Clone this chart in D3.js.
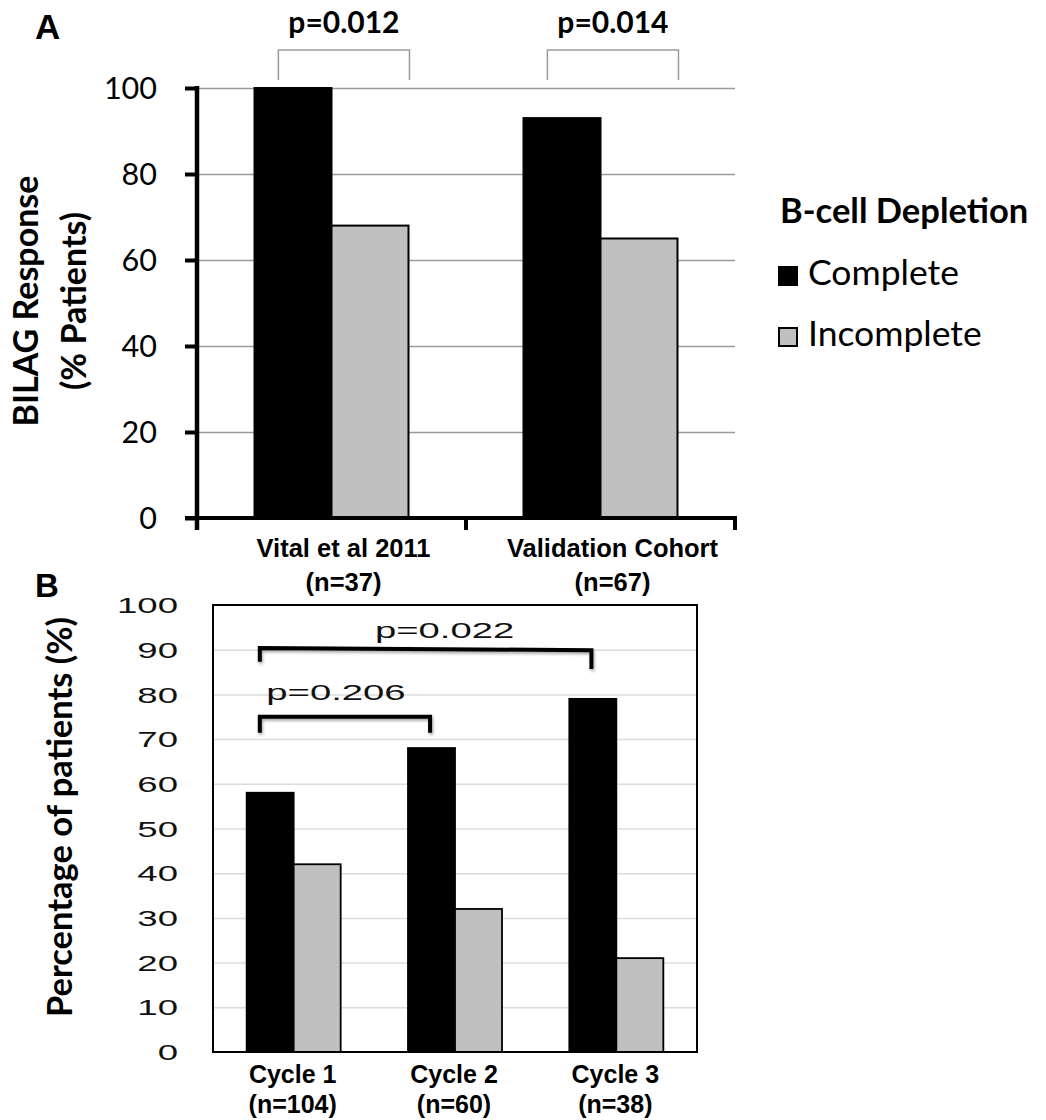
<!DOCTYPE html>
<html>
<head>
<meta charset="utf-8">
<script src="https://cdn.jsdelivr.net/npm/d3@7"></script>
<style>
  html, body { margin: 0; padding: 0; background: #fff; }
  svg { display: block; }
</style>
</head>
<body>
<script>
// ---- Panel A: BILAG response by B-cell depletion ----
const groupsA = ["Vital et al 2011", "Validation Cohort"];
const groupsANote = ["(n=37)", "(n=67)"];
const completeA = [100, 93];
const incompleteA = [68, 65];
const ticksA = [0, 20, 40, 60, 80, 100];
const pValuesA = ["p=0.012", "p=0.014"];

// ---- Panel B: depletion status per rituximab cycle ----
const cyclesB = ["Cycle 1", "Cycle 2", "Cycle 3"];
const cyclesBNote = ["(n=104)", "(n=60)", "(n=38)"];
const completeB = [58, 68, 79];
const incompleteB = [42, 32, 21];
const ticksB = [0, 10, 20, 30, 40, 50, 60, 70, 80, 90, 100];
const pValuesB = ["p=0.206", "p=0.022"];

const seriesNames = ["Complete", "Incomplete"];
const seriesFill = { Complete: "#000000", Incomplete: "#c0c0c0" };
const legendTitle = "B-cell Depletion";

const W = 1046, H = 1120;
const svg = d3.select("body").append("svg")
  .attr("width", W).attr("height", H)
  .attr("viewBox", [0, 0, W, H]);
svg.append("rect").attr("width", W).attr("height", H).attr("fill", "#fff");

const defs = svg.append("defs");
const shadow = defs.append("filter").attr("id", "bracketShadow")
  .attr("x", "-10%").attr("y", "-50%").attr("width", "120%").attr("height", "250%");
shadow.append("feDropShadow").attr("dx", 1).attr("dy", 2)
  .attr("stdDeviation", 1.4).attr("flood-color", "#000").attr("flood-opacity", 0.35);

const calibriLike = "Lato, 'Open Sans', sans-serif";
const arialLike = "'Liberation Sans', Arial, sans-serif";

// =================== Panel A ===================
const xA = d3.scaleBand().domain(groupsA).range([197, 735]);
const xsA = d3.scaleBand().domain(seriesNames).range([0, xA.bandwidth()])
  .paddingInner(0).paddingOuter(0.747);
const yA = d3.scaleLinear().domain([0, 100]).range([518, 88]);

const gA = svg.append("g");

// gridlines
gA.append("g")
  .attr("transform", `translate(197,0)`)
  .call(d3.axisLeft(yA).tickValues(ticksA.filter(t => t > 0)).tickSize(-538).tickFormat(""))
  .call(g => g.select(".domain").remove())
  .call(g => g.selectAll("line").attr("stroke", "#9a9a9a").attr("stroke-width", 1.3));

// bars
const rowsA = groupsA.map((g, i) => ({ group: g, values: [
  { key: "Complete", value: completeA[i] },
  { key: "Incomplete", value: incompleteA[i] }
]}));
gA.append("g").selectAll("g").data(rowsA).join("g")
  .attr("transform", d => `translate(${xA(d.group)},0)`)
  .selectAll("rect").data(d => d.values).join("rect")
  .attr("x", d => xsA(d.key))
  .attr("width", xsA.bandwidth())
  .attr("y", d => yA(d.value))
  .attr("height", d => yA(0) - yA(d.value))
  .attr("fill", d => seriesFill[d.key])
  .attr("stroke", "#000").attr("stroke-width", 2);

// y axis
gA.append("g")
  .attr("transform", "translate(197,0)")
  .call(d3.axisLeft(yA).tickValues(ticksA).tickSize(12).tickSizeOuter(0).tickPadding(28))
  .call(g => g.select(".domain").remove())
  .call(g => g.selectAll(".tick line").attr("stroke", "#000").attr("stroke-width", 4))
  .call(g => g.selectAll(".tick text")
    .attr("font-family", calibriLike).attr("font-size", 30.5).attr("fill", "#000")
    .attr("dy", "0.36em"));
gA.append("line")
  .attr("x1", 197).attr("x2", 197).attr("y1", yA(100) - 2).attr("y2", yA(0) + 12)
  .attr("stroke", "#000").attr("stroke-width", 4.5);

// x axis with boundary ticks
gA.append("line")
  .attr("x1", 185).attr("x2", xA.range()[1] + 2).attr("y1", yA(0)).attr("y2", yA(0))
  .attr("stroke", "#000").attr("stroke-width", 4);
const boundsA = d3.range(groupsA.length + 1).map(i => xA.range()[0] + i * xA.step());
gA.append("g").selectAll("line").data(boundsA.slice(1)).join("line")
  .attr("x1", d => d).attr("x2", d => d)
  .attr("y1", yA(0)).attr("y2", yA(0) + 12)
  .attr("stroke", "#000").attr("stroke-width", 4);

// category labels
const labelsA = gA.append("g").selectAll("text").data(groupsA).join("text")
  .attr("text-anchor", "middle")
  .attr("font-family", arialLike).attr("font-weight", "bold")
  .attr("font-size", 25.5).attr("fill", "#000")
  .attr("transform", d => `translate(${xA(d) + xA.bandwidth() / 2 + 12},557)`);
labelsA.append("tspan").attr("x", 0).attr("y", 0).text(d => d);
labelsA.append("tspan").attr("x", 0).attr("y", 34).text((d, i) => groupsANote[i]);

// significance brackets (light)
const bracketsA = groupsA.map((g, i) => {
  const x0 = xA(g) + xsA("Complete") + xsA.bandwidth() * 0.31;
  const x1 = xA(g) + xsA("Incomplete") + xsA.bandwidth() + 1;
  return { x0, x1, label: pValuesA[i] };
});
const brA = gA.append("g").selectAll("g").data(bracketsA).join("g");
brA.append("path")
  .attr("d", d => `M${d.x0},80V50H${d.x1}V80`)
  .attr("fill", "none").attr("stroke", "#9a9a9a").attr("stroke-width", 1.5);
brA.append("text")
  .attr("x", d => (d.x0 + d.x1) / 2).attr("y", 33)
  .attr("text-anchor", "middle")
  .attr("font-family", calibriLike).attr("font-weight", "bold")
  .attr("font-size", 30).attr("fill", "#000")
  .text(d => d.label);

// y title
const yTitleA = ["BILAG Response", "(% Patients)"];
gA.append("g").selectAll("text").data(yTitleA).join("text")
  .attr("transform", (d, i) => `translate(${i === 0 ? 38 : 86},301) rotate(-90)`)
  .attr("text-anchor", "middle")
  .attr("font-family", calibriLike).attr("font-weight", "bold")
  .attr("font-size", 34).attr("fill", "#000")
  .text(d => d);

// panel letter
svg.append("text").attr("x", 35).attr("y", 39)
  .attr("font-family", arialLike).attr("font-weight", "bold")
  .attr("font-size", 35).text("A");

// legend
const lg = svg.append("g");
lg.append("text").attr("x", 780).attr("y", 223)
  .attr("font-family", calibriLike).attr("font-weight", "bold")
  .attr("font-size", 34.5).attr("fill", "#000").text(legendTitle);
const lItems = lg.selectAll("g.item").data(seriesNames).join("g")
  .attr("class", "item")
  .attr("transform", (d, i) => `translate(778,${266 + i * 61})`);
lItems.append("rect")
  .attr("x", 1).attr("y", 1).attr("width", 18).attr("height", 18)
  .attr("fill", d => seriesFill[d]).attr("stroke", "#000").attr("stroke-width", 2);
lItems.append("text").attr("x", 30).attr("y", 19)
  .attr("font-family", calibriLike).attr("font-size", 35.5).attr("fill", "#000")
  .text(d => d);

// =================== Panel B ===================
const xB = d3.scaleBand().domain(cyclesB).range([213, 697]);
const xsB = d3.scaleBand().domain(seriesNames).range([0, xB.bandwidth()])
  .paddingInner(0).paddingOuter(0.716);
const yB = d3.scaleLinear().domain([0, 100]).range([1052, 605]);
const stretch = 1.7;

const gB = svg.append("g");

// gridlines
gB.append("g")
  .attr("transform", "translate(213,0)")
  .call(d3.axisLeft(yB).tickValues(ticksB.filter(t => t > 0 && t < 100)).tickSize(-484).tickFormat(""))
  .call(g => g.select(".domain").remove())
  .call(g => g.selectAll("line").attr("stroke", "#dcdcdc").attr("stroke-width", 1.5));

// bars
const rowsB = cyclesB.map((c, i) => ({ group: c, values: [
  { key: "Complete", value: completeB[i] },
  { key: "Incomplete", value: incompleteB[i] }
]}));
gB.append("g").selectAll("g").data(rowsB).join("g")
  .attr("transform", d => `translate(${xB(d.group)},0)`)
  .selectAll("rect").data(d => d.values).join("rect")
  .attr("x", d => xsB(d.key))
  .attr("width", xsB.bandwidth())
  .attr("y", d => yB(d.value))
  .attr("height", d => yB(0) - yB(d.value))
  .attr("fill", d => seriesFill[d.key])
  .attr("stroke", "#000").attr("stroke-width", 1.8);

// plot frame
gB.append("rect")
  .attr("x", xB.range()[0]).attr("y", yB(100))
  .attr("width", xB.range()[1] - xB.range()[0]).attr("height", yB(0) - yB(100))
  .attr("fill", "none").attr("stroke", "#000").attr("stroke-width", 2);

// y tick labels (wide face)
gB.append("g").selectAll("g").data(ticksB).join("g")
  .attr("transform", d => `translate(178,${yB(d)})`)
  .append("text")
  .attr("transform", `scale(${stretch},1)`)
  .attr("text-anchor", "end").attr("dy", "0.38em")
  .attr("font-family", arialLike).attr("font-size", 21.5).attr("fill", "#111")
  .text(d => d);

// category labels
const labelsB = gB.append("g").selectAll("text").data(cyclesB).join("text")
  .attr("text-anchor", "middle")
  .attr("font-family", arialLike).attr("font-weight", "bold")
  .attr("font-size", 25).attr("fill", "#000")
  .attr("transform", d => `translate(${xB(d) + xB.bandwidth() / 2 - 1},1083)`);
labelsB.append("tspan").attr("x", 0).attr("y", 0).text(d => d);
labelsB.append("tspan").attr("x", 0).attr("y", 30).text((d, i) => cyclesBNote[i]);

// significance brackets (heavy, shadowed)
const blackLeft = c => xB(c) + xsB("Complete");
const bracketsB = [
  { from: cyclesB[0], to: cyclesB[1], topL: 75, topR: 75, legL: 71.4, legR: 71.4,
    label: pValuesB[0], labelY: 78.7, labelDx: -9 },
  { from: cyclesB[0], to: cyclesB[2], topL: 90.4, topR: 89.9, legL: 87.3, legR: 85.7,
    label: pValuesB[1], labelY: 92.6, labelDx: 19 }
].map(b => ({
  ...b,
  x0: blackLeft(b.from) + xsB.bandwidth() * 0.28,
  x1: blackLeft(b.to) + xsB.bandwidth() * 0.47
}));
const brB = gB.append("g").selectAll("g").data(bracketsB).join("g");
brB.append("path")
  .attr("d", d => `M${d.x0},${yB(d.legL)}V${yB(d.topL)}L${d.x1},${yB(d.topR)}V${yB(d.legR)}`)
  .attr("fill", "none").attr("stroke", "#000").attr("stroke-width", 4)
  .attr("stroke-linejoin", "miter")
  .attr("filter", "url(#bracketShadow)");
brB.append("g")
  .attr("transform", d => `translate(${(d.x0 + d.x1) / 2 + d.labelDx},${yB(d.labelY)})`)
  .append("text")
  .attr("transform", `scale(${stretch},1)`)
  .attr("text-anchor", "middle")
  .attr("font-family", arialLike).attr("font-size", 22.5).attr("fill", "#111")
  .text(d => d.label);

// y title
gB.append("text")
  .attr("transform", "translate(72,817) rotate(-90)")
  .attr("text-anchor", "middle")
  .attr("font-family", calibriLike).attr("font-weight", "bold")
  .attr("font-size", 34.5).attr("fill", "#000")
  .text("Percentage of patients (%)");

// panel letter
svg.append("text").attr("x", 35).attr("y", 597)
  .attr("font-family", arialLike).attr("font-weight", "bold")
  .attr("font-size", 33).text("B");
</script>
</body>
</html>
